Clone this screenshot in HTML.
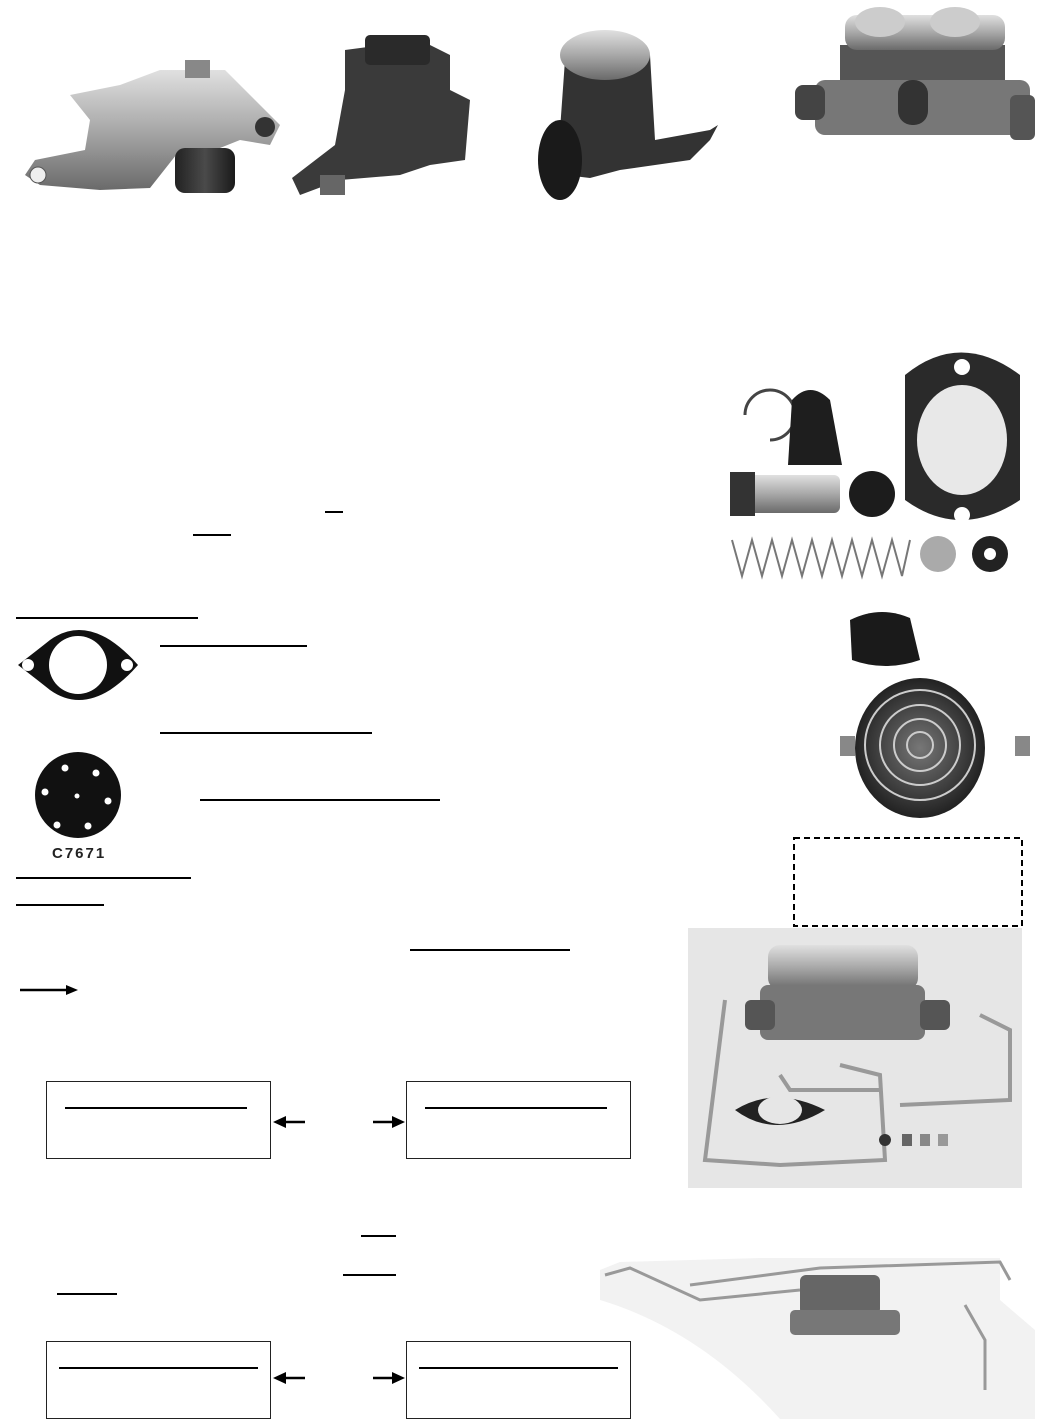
<!DOCTYPE html>
<html><head><meta charset="utf-8"><style>
html,body{margin:0;padding:0;background:#fff}
body{width:1040px;height:1419px;position:relative;overflow:hidden;font-family:"Liberation Sans",sans-serif}
.u{position:absolute;height:0;border-top:2px solid #000}
.box{position:absolute;border:1.5px solid #222;box-sizing:border-box;background:#fff}
svg{position:absolute;left:0;top:0}
</style></head><body>
<svg width="1040" height="1419" viewBox="0 0 1040 1419">
<defs>
<linearGradient id="met" x1="0" y1="0" x2="0" y2="1"><stop offset="0" stop-color="#e0e0e0"/><stop offset=".5" stop-color="#a8a8a8"/><stop offset="1" stop-color="#6a6a6a"/></linearGradient>
<linearGradient id="dk" x1="0" y1="0" x2="1" y2="0"><stop offset="0" stop-color="#222"/><stop offset=".5" stop-color="#4a4a4a"/><stop offset="1" stop-color="#1a1a1a"/></linearGradient>
<radialGradient id="bell"><stop offset="0" stop-color="#777"/><stop offset="1" stop-color="#222"/></radialGradient>
</defs>
<!-- photo 1 -->
<g>
<path d="M70 95 L120 85 L160 70 L225 70 L265 110 L280 125 L270 145 L240 140 L215 150 L180 150 L150 188 L100 190 L40 185 L25 175 L35 160 L85 150 L90 120 Z" fill="url(#met)"/>
<rect x="175" y="148" width="60" height="45" rx="10" fill="url(#dk)"/>
<rect x="185" y="60" width="25" height="18" fill="#888"/>
<circle cx="265" cy="127" r="10" fill="#333"/>
<circle cx="38" cy="175" r="8" fill="#eee" stroke="#555"/>
</g>
<!-- photo 2 -->
<g>
<path d="M345 50 L420 40 L450 55 L450 90 L470 100 L465 160 L430 165 L400 175 L340 180 L300 195 L292 178 L335 145 L345 90 Z" fill="#3a3a3a"/>
<rect x="365" y="35" width="65" height="30" rx="5" fill="#2a2a2a"/>
<rect x="320" y="175" width="25" height="20" fill="#666"/>
</g>
<!-- photo 3 -->
<g>
<path d="M565 60 Q605 10 650 55 L655 140 L710 130 L718 125 L710 140 L690 160 L620 170 L590 178 L565 175 L560 130 Z" fill="#333"/>
<ellipse cx="605" cy="55" rx="45" ry="25" fill="url(#met)"/>
<ellipse cx="560" cy="160" rx="22" ry="40" fill="#1a1a1a"/>
</g>
<!-- photo 4 -->
<g>
<rect x="840" y="45" width="165" height="85" fill="#555"/>
<rect x="815" y="80" width="215" height="55" rx="10" fill="#777"/>
<rect x="845" y="15" width="160" height="35" rx="12" fill="url(#met)"/>
<ellipse cx="880" cy="22" rx="25" ry="15" fill="#ccc"/><ellipse cx="955" cy="22" rx="25" ry="15" fill="#ccc"/>
<rect x="898" y="80" width="30" height="45" rx="14" fill="#333"/>
<rect x="795" y="85" width="30" height="35" rx="8" fill="#444"/>
<rect x="1010" y="95" width="25" height="45" rx="6" fill="#555"/>
</g>
<!-- kit photo -->
<g>
<path d="M745 415 A25 25 0 1 1 770 440" fill="none" stroke="#444" stroke-width="3"/>
<path d="M792 400 Q810 380 830 400 L842 465 L788 465 Z" fill="#1e1e1e"/>
<path d="M905 375 Q960 330 1020 375 L1020 500 Q960 540 905 500 Z" fill="#2a2a2a"/>
<ellipse cx="962" cy="440" rx="45" ry="55" fill="#e8e8e8"/>
<circle cx="962" cy="367" r="8" fill="#fff"/><circle cx="962" cy="515" r="8" fill="#fff"/>
<rect x="730" y="475" width="110" height="38" rx="6" fill="url(#met)"/>
<rect x="730" y="472" width="25" height="44" fill="#333"/>
<circle cx="872" cy="494" r="23" fill="#1c1c1c"/>
<path d="M732 540 L742 576 L752 540 L762 576 L772 540 L782 576 L792 540 L802 576 L812 540 L822 576 L832 540 L842 576 L852 540 L862 576 L872 540 L882 576 L892 540 L902 576 L910 540" fill="none" stroke="#777" stroke-width="2"/>
<circle cx="938" cy="554" r="18" fill="#aaa"/>
<circle cx="990" cy="554" r="18" fill="#222"/><circle cx="990" cy="554" r="6" fill="#fff"/>
</g>
<!-- boot & bell -->
<path d="M850 620 Q880 605 910 618 L920 660 Q885 672 852 660 Z" fill="#1a1a1a"/>
<ellipse cx="920" cy="748" rx="65" ry="70" fill="url(#bell)"/>
<g fill="none" stroke="#ccc" stroke-width="2"><circle cx="920" cy="745" r="55"/><circle cx="920" cy="745" r="40"/><circle cx="920" cy="745" r="26"/><circle cx="920" cy="745" r="13"/></g>
<rect x="840" y="736" width="15" height="20" fill="#888"/><rect x="1015" y="736" width="15" height="20" fill="#888"/>
<!-- dashed box -->
<rect x="794" y="838" width="228" height="88" fill="none" stroke="#000" stroke-width="2" stroke-dasharray="6 4"/>
<!-- photo with lines -->
<rect x="688" y="928" width="334" height="260" fill="#e6e6e6"/>
<rect x="768" y="945" width="150" height="45" rx="12" fill="url(#met)"/>
<rect x="760" y="985" width="165" height="55" rx="8" fill="#777"/>
<rect x="745" y="1000" width="30" height="30" rx="6" fill="#555"/><rect x="920" y="1000" width="30" height="30" rx="6" fill="#555"/>
<g fill="none" stroke="#999" stroke-width="4"><path d="M725 1000 L705 1160 L780 1165 L885 1160 L880 1075 L840 1065"/><path d="M980 1015 L1010 1030 L1010 1100 L900 1105"/><path d="M780 1075 L790 1090 L880 1090"/></g>
<path d="M735 1110 Q775 1085 825 1110 Q775 1140 735 1110 Z" fill="#222"/><ellipse cx="780" cy="1110" rx="22" ry="14" fill="#e6e6e6"/>
<circle cx="885" cy="1140" r="6" fill="#333"/><rect x="902" y="1134" width="10" height="12" fill="#666"/><rect x="920" y="1134" width="10" height="12" fill="#888"/><rect x="938" y="1134" width="10" height="12" fill="#999"/>
<!-- bottom photo -->
<path d="M600 1270 L620 1262 L760 1258 L1000 1258 L1000 1300 L1035 1330 L1035 1419 L780 1419 Q700 1330 600 1300 Z" fill="#f2f2f2"/>
<g fill="none" stroke="#999" stroke-width="3"><path d="M605 1275 L630 1268 L700 1300 L800 1290"/><path d="M690 1285 L820 1268 L1000 1262 L1010 1280"/><path d="M965 1305 L985 1340 L985 1390"/></g>
<rect x="800" y="1275" width="80" height="40" rx="6" fill="#666"/><rect x="790" y="1310" width="110" height="25" rx="5" fill="#777"/>
<!-- gasket & disk -->
<path d="M18 665 Q40 648 50 640 Q78 620 110 640 Q125 650 138 665 Q125 680 110 690 Q78 710 50 690 Q40 682 18 665 Z" fill="#111"/>
<circle cx="78" cy="665" r="29" fill="#fff"/><circle cx="28" cy="665" r="6" fill="#fff"/><circle cx="127" cy="665" r="6" fill="#fff"/>
<circle cx="78" cy="795" r="43" fill="#111"/>
<g fill="#fff"><circle cx="65" cy="768" r="3.5"/><circle cx="96" cy="773" r="3.5"/><circle cx="45" cy="792" r="3.5"/><circle cx="77" cy="796" r="2.5"/><circle cx="108" cy="801" r="3.5"/><circle cx="57" cy="825" r="3.5"/><circle cx="88" cy="826" r="3.5"/></g>
<text x="52" y="858" font-family="Liberation Sans, sans-serif" font-weight="bold" font-size="15" letter-spacing="2" fill="#222">C7671</text>
<!-- arrows -->
<g stroke="#000" stroke-width="2.5" fill="#000">
<line x1="20" y1="990" x2="68" y2="990"/><path d="M78 990 L66 985 L66 995 Z" stroke="none"/>
<line x1="285" y1="1122" x2="305" y2="1122"/><path d="M273 1122 L286 1116 L286 1128 Z" stroke="none"/>
<line x1="373" y1="1122" x2="393" y2="1122"/><path d="M405 1122 L392 1116 L392 1128 Z" stroke="none"/>
<line x1="285" y1="1378" x2="305" y2="1378"/><path d="M273 1378 L286 1372 L286 1384 Z" stroke="none"/>
<line x1="373" y1="1378" x2="393" y2="1378"/><path d="M405 1378 L392 1372 L392 1384 Z" stroke="none"/>
</g>
</svg>
<div class="u" style="left:325px;top:511px;width:18px"></div>
<div class="u" style="left:193px;top:534px;width:38px"></div>
<div class="u" style="left:16px;top:617px;width:182px"></div>
<div class="u" style="left:160px;top:645px;width:147px"></div>
<div class="u" style="left:160px;top:732px;width:212px"></div>
<div class="u" style="left:200px;top:799px;width:240px"></div>
<div class="u" style="left:16px;top:877px;width:175px"></div>
<div class="u" style="left:16px;top:904px;width:88px"></div>
<div class="u" style="left:410px;top:949px;width:160px"></div>
<div class="box" style="left:46px;top:1081px;width:225px;height:78px"><div class="u" style="left:18px;top:25px;width:182px"></div></div>
<div class="box" style="left:406px;top:1081px;width:225px;height:78px"><div class="u" style="left:18px;top:25px;width:182px"></div></div>
<div class="u" style="left:361px;top:1235px;width:35px"></div>
<div class="u" style="left:343px;top:1274px;width:53px"></div>
<div class="u" style="left:57px;top:1293px;width:60px"></div>
<div class="box" style="left:46px;top:1341px;width:225px;height:78px"><div class="u" style="left:12px;top:25px;width:199px"></div></div>
<div class="box" style="left:406px;top:1341px;width:225px;height:78px"><div class="u" style="left:12px;top:25px;width:199px"></div></div>
</body></html>
